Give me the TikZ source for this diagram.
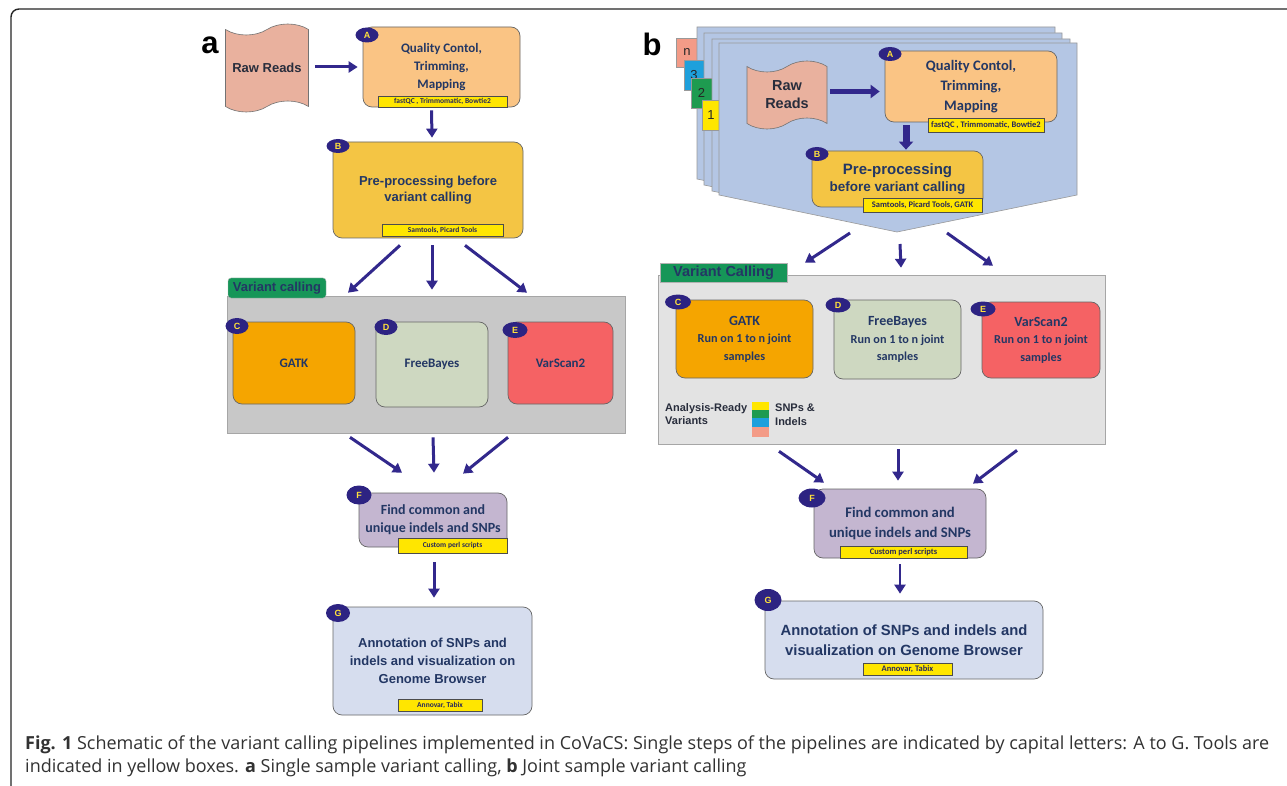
\documentclass[tikz,border=0pt]{standalone}
\usepackage{fontspec}
\setmainfont{Carlito}
\newfontfamily\carl{Carlito}
\newfontfamily\arialf{Liberation Sans}
\newfontfamily\capf{Open Sans}
\usetikzlibrary{arrows.meta,shapes.symbols,shapes.geometric,calc}
\newcommand\fsz[2]{\fontsize{#1}{#2}\selectfont}
\newcommand\mybox[7]{\node[#1, minimum width={(#5-#3)*1pt}, minimum height={(#6-#4)*1pt}] (#2) at ({(#3+#5)/2},{(#4+#6)/2}) {#7};}
\definecolor{qcfill}{RGB}{250,196,132}
\definecolor{ppfill}{RGB}{244,197,68}
\definecolor{gatkfill}{RGB}{245,165,0}
\definecolor{fbfill}{RGB}{206,216,193}
\definecolor{vsfill}{RGB}{245,98,100}
\definecolor{ffill}{RGB}{196,182,208}
\definecolor{gfill}{RGB}{214,221,238}
\definecolor{rawfill}{RGB}{233,177,158}
\definecolor{pagefill}{RGB}{180,198,228}
\definecolor{toolyel}{RGB}{255,230,0}
\definecolor{tabgreen}{RGB}{22,150,88}
\definecolor{labc}{RGB}{45,35,130}
\definecolor{labt}{RGB}{255,225,60}
\definecolor{arrowc}{RGB}{50,40,140}
\definecolor{textc}{RGB}{35,55,100}
\definecolor{toolt}{RGB}{40,40,90}
\definecolor{capc}{RGB}{50,50,50}
\definecolor{grayA}{RGB}{200,200,200}
\definecolor{grayB}{RGB}{227,227,227}
\definecolor{nsalmon}{RGB}{243,155,135}
\definecolor{nblue}{RGB}{30,160,220}
\definecolor{ngreen}{RGB}{30,155,80}
\definecolor{darkt}{RGB}{40,45,60}
\tikzset{
 box/.style={draw=black!60, line width=0.7pt, rounded corners=9pt, align=center, text=textc, inner sep=0pt},
 tool/.style={draw=black!70, fill=toolyel, line width=0.5pt, text=toolt, inner sep=0pt, font=\carl\bfseries\fsz{7.5}{8}},
 toolb/.style={tool, font=\carl\bfseries\fsz{8.5}{9}},
 lab/.style={ellipse, fill=labc, text=labt, inner sep=0pt, font=\arialf\bfseries\fsz{9}{9}},
 arr/.style={draw=arrowc, line width=3pt, -{Triangle[length=9pt,width=11pt]}},
 page/.style={draw=black!40, fill=pagefill, line width=0.6pt},
 numtab/.style={inner sep=0pt, font=\arialf\fsz{13}{13}, text=black!85, draw=black!40, line width=0.4pt},
 rawdoc/.style={tape, draw=black!55, fill=rawfill, line width=0.6pt, tape bend top=in and out, tape bend bottom=in and out, tape bend height=11pt, inner sep=0pt, align=center, text=darkt, font=\arialf\bfseries},
 vcpanel/.style={draw=black!35, line width=0.6pt, inner sep=0pt},
 vctab/.style={fill=tabgreen, draw=black!30, line width=0.4pt, inner sep=0pt, text=textc, font=\arialf\bfseries},
 stk/.style={inner sep=0pt, draw=none}
}
\begin{document}
\begin{tikzpicture}[x=1pt,y=-1pt]
\useasboundingbox (0,0) rectangle (1287,786);
\clip (0,0) rectangle (1287,786);
\fill[white] (0,0) rectangle (1287,786);
% frame
\draw[line width=1.4pt, black!85, rounded corners=8pt] (1290,9) -- (11,9) -- (11,795) -- (30,795);

% ================= panel a =================
\node[font=\arialf\bfseries\fsz{31}{31}] (la) at (210,45) {a};
\node[rawdoc, minimum width=83pt, minimum height=88pt, font=\arialf\bfseries\fsz{13}{16}] (rawA) at (267,68) {Raw Reads};
\mybox{box,fill=qcfill,font=\carl\bfseries\fsz{13}{18}}{qcA}{363}{27}{520}{107}{Quality Contol,\\Trimming,\\Mapping}
\mybox{tool}{tA}{378}{96}{507}{107}{fastQC , Trimmomatic, Bowtie2}
\node[lab, minimum width=23pt, minimum height=15pt] (lA) at (367,35) {A};
\draw[arr] ([xshift=6pt]rawA.east |- qcA.west) -- ([xshift=-5pt]qcA.west);

\mybox{box,fill=ppfill,font=\arialf\bfseries\fsz{13}{16}}{ppA}{333}{142}{523}{238}{Pre-processing before\\variant calling}
\mybox{tool}{tB}{382}{224}{503}{236}{Samtools, Picard Tools}
\node[lab, minimum width=23pt, minimum height=14pt] (lB) at (338,146) {B};
\draw[arr] ([shift={(-10,3)}]qcA.south) -- ([shift={(4,-4)}]ppA.north);

\mybox{vcpanel,fill=grayA}{vcA}{227}{296}{625}{433}{}
\mybox{vctab,rounded corners=3pt,font=\arialf\bfseries\fsz{13}{13}}{tabA}{228}{278}{326}{298}{Variant calling}
\mybox{box,fill=gatkfill,font=\carl\bfseries\fsz{13}{16}}{gatkA}{233}{322}{355}{404}{GATK}
\mybox{box,fill=fbfill,font=\carl\bfseries\fsz{13}{16}}{fbA}{376}{322}{488}{407}{FreeBayes}
\mybox{box,fill=vsfill,font=\carl\bfseries\fsz{13}{16}}{vsA}{508}{322}{613}{404}{VarScan2}
\node[lab, minimum width=23pt, minimum height=16pt] (lC) at (237,326) {C};
\node[lab, minimum width=23pt, minimum height=16pt] (lD) at (386,327) {D};
\node[lab, minimum width=25pt, minimum height=16pt] (lE) at (515,330) {E};
\draw[arr] ([shift={(-28,7)}]ppA.south) -- ([shift={(-78,-3)}]vcA.north);
\draw[arr] ([shift={(4,7)}]ppA.south) -- ([shift={(6,-6)}]vcA.north);
\draw[arr] ([shift={(37,7)}]ppA.south) -- ([shift={(101,-3)}]vcA.north);

\mybox{box,fill=ffill,font=\carl\bfseries\fsz{14}{18}}{fA}{359}{493}{507}{547}{Find common and\\unique indels and SNPs}
\mybox{tool}{tF}{398}{538}{507}{553}{Custom perl scripts}
\node[lab, minimum width=25pt, minimum height=19pt] (lF) at (359,495) {F};
\draw[arr] ([shift={(-76,4)}]vcA.south) -- ([shift={(-31,-20)}]fA.north);
\draw[arr] ([shift={(7,4)}]vcA.south) -- ([shift={(1,-20)}]fA.north);
\draw[arr] ([shift={(82,4)}]vcA.south) -- ([shift={(30,-19)}]fA.north);

\mybox{box,fill=gfill,font=\arialf\bfseries\fsz{13}{18}}{gA}{333}{607}{532}{715}{Annotation of SNPs and\\indels and visualization on\\Genome Browser}
\mybox{tool}{tG}{398}{699}{482}{711}{Annovar, Tabix}
\node[lab, minimum width=24pt, minimum height=18pt] (lG) at (338,613) {G};
\draw[arr] ([shift={(1,15)}]fA.south) -- ([shift={(1.5,-9)}]gA.north);

% ================= panel b =================
\node[font=\arialf\bfseries\fsz{31}{31}] (lb) at (652,44) {b};
\mybox{numtab,fill=nsalmon}{tabn}{676}{38}{698}{67}{n}
\path[page,shift={(-22,-16)}] (719,43) -- (1077,43) -- (1077,195) -- (897,232) -- (719,195) -- cycle;
\mybox{numtab,fill=nblue}{tab3}{684}{60}{704}{90}{3}
\path[page,shift={(-15,-10)}] (719,43) -- (1077,43) -- (1077,195) -- (897,232) -- (719,195) -- cycle;
\mybox{numtab,fill=ngreen}{tab2}{691}{78}{712}{108}{2}
\path[page,shift={(-7,-4)}] (719,43) -- (1077,43) -- (1077,195) -- (897,232) -- (719,195) -- cycle;
\mybox{numtab,fill=toolyel}{tab1}{702}{100}{720}{130}{1}
\path[page] (719,43) -- (1077,43) -- (1077,195) -- (897,232) -- (719,195) -- cycle;
\coordinate (tip) at (897,232);

\node[rawdoc, minimum width=80pt, minimum height=68pt, font=\arialf\bfseries\fsz{14.5}{18}] (rawB) at (787,95) {Raw\\Reads};
\mybox{box,fill=qcfill,font=\carl\bfseries\fsz{14.5}{20}}{qcB}{885}{51}{1057}{122}{Quality Contol,\\Trimming,\\Mapping}
\mybox{toolb}{tAb}{928}{118}{1044}{132}{fastQC , Trimmomatic, Bowtie2}
\node[lab, minimum width=23pt, minimum height=14pt] (lAb) at (890,54) {A};
\draw[arr, line width=4.5pt, -{Triangle[length=9pt,width=13pt]}] ([xshift=3pt]rawB.east |- qcB.west) ++(0,5) -- ([shift={(-5,5)}]qcB.west);

\mybox{box,fill=ppfill,font=\arialf\bfseries\fsz{13.5}{17}}{ppB}{812}{151}{983}{207}{{\fsz{15}{17}Pre-processing}\\before variant calling}
\mybox{toolb}{tBb}{863}{198}{982}{212}{Samtools, Picard Tools, GATK}
\node[lab, minimum width=23pt, minimum height=14pt] (lBb) at (817,154) {B};
\draw[arr, line width=7pt, -{Triangle[length=8pt,width=14pt]}] ([shift={(-65,3)}]qcB.south) -- ([shift={(8.5,-1)}]ppB.north);

\mybox{vcpanel,fill=grayB}{vcB}{658}{275}{1105}{444}{}
\mybox{vctab,font=\arialf\bfseries\fsz{14.5}{14.5}}{tabB}{660}{263}{787}{282}{Variant Calling}
\draw[arr] ([shift={(-47,1)}]tip) -- ([shift={(-76.5,-12)}]vcB.north);
\draw[arr] ([shift={(3,12)}]tip) -- ([shift={(19.5,-7)}]vcB.north);
\draw[arr] ([shift={(50,1)}]tip) -- ([shift={(111.5,-9)}]vcB.north);

\mybox{box,fill=gatkfill,font=\carl\bfseries\fsz{12.2}{17.5}}{gatkB}{676}{300}{813}{378}{{\fsz{14}{17.5}GATK}\\Run on 1 to n joint\\samples}
\mybox{box,fill=fbfill,font=\carl\bfseries\fsz{12.2}{17.5}}{fbB}{834}{300}{961}{379}{{\fsz{14}{17.5}FreeBayes}\\Run on 1 to n joint\\samples}
\mybox{box,fill=vsfill,font=\carl\bfseries\fsz{12.2}{17.5}}{vsB}{982}{302}{1100}{378}{{\fsz{14}{17.5}VarScan2}\\Run on 1 to n joint\\samples}
\node[lab, minimum width=26pt, minimum height=15pt] (lCb) at (678,302) {C};
\node[lab, minimum width=25pt, minimum height=15pt] (lDb) at (838,305) {D};
\node[lab, minimum width=25pt, minimum height=15pt] (lEb) at (983,309) {E};

\node[anchor=west, align=left, inner sep=0pt, text=darkt, font=\arialf\bfseries\fsz{11}{13.5}] (arv) at (665,414) {Analysis-Ready\\Variants};
\mybox{stk,fill=toolyel}{s1}{752}{402}{769}{410}{}
\mybox{stk,fill=ngreen}{s2}{752}{410}{769}{418}{}
\mybox{stk,fill=nblue}{s3}{752}{418}{769}{427}{}
\mybox{stk,fill=nsalmon}{s4}{752}{427}{769}{437}{}
\node[anchor=west, align=left, inner sep=0pt, text=darkt, font=\arialf\bfseries\fsz{11}{14}] (snp) at (775,415) {SNPs \&\\Indels};

\mybox{box,fill=ffill,font=\carl\bfseries\fsz{14.7}{20}}{fB}{814}{489}{986}{558}{Find common and\\unique indels and SNPs}
\mybox{toolb}{tFb}{840}{546}{967}{558}{Custom perl scripts}
\node[lab, minimum width=27pt, minimum height=19pt] (lFb) at (812,498) {F};
\draw[arr] ([shift={(-102.5,7)}]vcB.south) -- ([shift={(-76,-6)}]fB.north);
\draw[arr] ([shift={(16.5,5)}]vcB.south) -- ([shift={(-2,-8)}]fB.north);
\draw[arr] ([shift={(135.5,6)}]vcB.south) -- ([shift={(73,-5)}]fB.north);

\mybox{box,fill=gfill,font=\arialf\bfseries\fsz{14.8}{20}}{gB}{765}{601}{1043}{679}{Annotation of SNPs and indels and\\visualization on Genome Browser}
\mybox{toolb}{tGb}{863}{663}{952}{675}{Annovar, Tabix}
\node[lab, minimum width=27pt, minimum height=22pt] (lGb) at (768,600) {G};
\draw[arr, line width=2.6pt] ([shift={(0,6)}]fB.south) -- ([shift={(-4,-7)}]gB.north);

% ================= caption =================
\node[anchor=base west, inner sep=0pt, text=capc, font=\capf\fsz{18}{22}] (cap1) at (25,749) {\textbf{Fig. 1} Schematic of the variant calling pipelines implemented in CoVaCS: Single steps of the pipelines are indicated by capital letters: A to G. Tools are};
\node[anchor=base west, inner sep=0pt, text=capc, font=\capf\fsz{18}{22}] (cap2) at (25,772) {indicated in yellow boxes. \textbf{a} Single sample variant calling, \textbf{b} Joint sample variant calling};
\end{tikzpicture}
\end{document}
